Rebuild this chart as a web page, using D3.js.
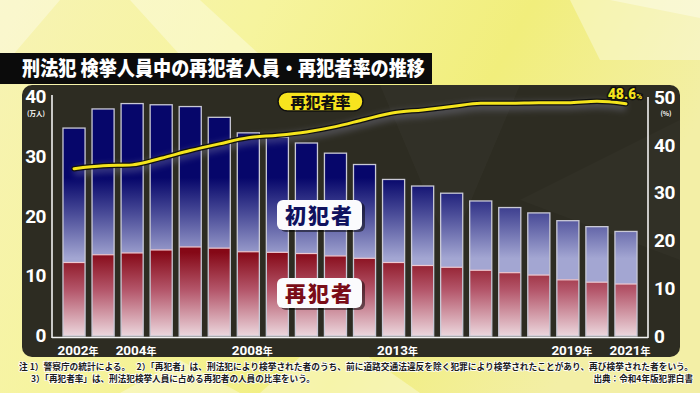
<!DOCTYPE html>
<html><head><meta charset="utf-8">
<script src="https://cdn.jsdelivr.net/npm/d3@7"></script>
<style>
html,body{margin:0;padding:0;overflow:hidden;background:#f3f08e}
svg{display:block}
</style></head>
<body>
<script>
const years = [2002,2003,2004,2005,2006,2007,2008,2009,2010,2011,2012,2013,2014,2015,2016,2017,2018,2019,2020,2021];
const totalArrested = [34.8,38.0,38.9,38.7,38.4,36.6,34.0,33.3,32.3,30.6,28.7,26.2,25.1,23.9,22.6,21.5,20.6,19.3,18.3,17.5];
const repeatOffenders = [12.3,13.6,13.9,14.4,14.9,14.7,14.1,14.0,13.8,13.4,13.0,12.3,11.8,11.5,11.0,10.6,10.2,9.4,9.0,8.7];
const repeatRate = [35.0,35.6,35.8,37.2,38.8,40.2,41.5,42.0,42.7,43.8,45.3,46.7,47.3,48.0,48.7,48.7,48.8,48.8,49.1,48.6];
const leftTicks = [0,10,20,30,40];
const rightTicks = [0,10,20,30,40,50];
const xLabelYears = [2002,2004,2008,2013,2019,2021];
const title = "刑法犯 検挙人員中の再犯者人員・再犯者率の推移";
const note1 = "注\u00a01）警察庁の統計による。\u3000 2）「再犯者」は、刑法犯により検挙された者のうち、前に道路交通法違反を除く犯罪により検挙されたことがあり、再び検挙された者をいう。";
const note2 = "3）「再犯者率」は、刑法犯検挙人員に占める再犯者の人員の比率をいう。";
const source = "出典：令和4年版犯罪白書";

const W=700,H=393;
const JP = "'Noto Sans CJK JP','Noto Sans',sans-serif";
const NUM = "Roboto,'Noto Sans',sans-serif";
const svg = d3.select("body").append("svg").attr("width",W).attr("height",H);
const defs = svg.append("defs");

// background
const bg = defs.append("linearGradient").attr("id","bg").attr("x1","0").attr("y1","0").attr("x2","1").attr("y2","0.3");
bg.append("stop").attr("offset","0").attr("stop-color","#f7f3b4");
bg.append("stop").attr("offset","0.35").attr("stop-color","#f6f49e");
bg.append("stop").attr("offset","0.7").attr("stop-color","#f1ee7c");
bg.append("stop").attr("offset","1").attr("stop-color","#f3efa6");
svg.append("rect").attr("width",W).attr("height",H).attr("fill","url(#bg)");
const streaks = [
  [[0,0],[60,0],[0,70]],
  [[130,0],[200,0],[260,55],[180,55]],
  [[570,0],[700,0],[700,60],[600,60]],
  [[610,0],[700,0],[700,18]],
  [[260,393],[330,330],[420,393]],
  [[120,393],[180,360],[240,393]]
];
svg.selectAll("polygon.streak").data(streaks).join("polygon").attr("class","streak")
  .attr("points",d=>d.map(p=>p.join(",")).join(" "))
  .attr("fill","#ffffff").attr("opacity",0.35);

// title bar
svg.append("rect").attr("x",0).attr("y",53).attr("width",432).attr("height",31).attr("fill","#0b0b0b");
svg.append("text").attr("x",22).attr("y",76).attr("fill","#fff")
  .attr("font-family",JP).attr("font-weight",900).attr("font-size",20)
  .attr("textLength",403).attr("lengthAdjust","spacingAndGlyphs")
  .text(title);

// panel
svg.append("rect").attr("x",22).attr("y",85).attr("width",658).attr("height",272).attr("rx",10)
  .attr("fill","#2d2c22");
svg.append("polygon").attr("points","380,85 520,85 450,250").attr("fill","#ffffff").attr("opacity",0.025);
svg.append("polygon").attr("points","520,200 680,120 680,260").attr("fill","#ffffff").attr("opacity",0.02);

// scales
const x = d3.scaleBand().domain(years).range([59.5,640.5]).paddingInner(0.24).paddingOuter(0.12);
const yL = d3.scaleLinear().domain([0,40]).range([336,97]);
const yR = d3.scaleLinear().domain([0,50]).range([336,97]);

// gradients (absolute)
const gB = defs.append("linearGradient").attr("id","gB").attr("gradientUnits","userSpaceOnUse")
  .attr("x1",0).attr("x2",0).attr("y1",yL(26.5)).attr("y2",yL(13));
gB.append("stop").attr("offset","0").attr("stop-color","#06066a");
gB.append("stop").attr("offset","0.45").attr("stop-color","#4a4c98");
gB.append("stop").attr("offset","1").attr("stop-color","#a3a6d2");
const gR = defs.append("linearGradient").attr("id","gR").attr("gradientUnits","userSpaceOnUse")
  .attr("x1",0).attr("x2",0).attr("y1",yL(14)).attr("y2",yL(0));
gR.append("stop").attr("offset","0").attr("stop-color","#850816");
gR.append("stop").attr("offset","0.45").attr("stop-color","#b4566a");
gR.append("stop").attr("offset","1").attr("stop-color","#ecd7dd");

const data = years.map((y,i)=>({year:y,total:totalArrested[i],rep:repeatOffenders[i],rate:repeatRate[i]}));

// bars
const bars = svg.append("g");
bars.selectAll("rect.first").data(data).join("rect").attr("class","first")
  .attr("x",d=>x(d.year)).attr("width",x.bandwidth())
  .attr("y",d=>yL(d.total)).attr("height",d=>yL(d.rep)-yL(d.total))
  .attr("fill","url(#gB)");
bars.selectAll("rect.rep").data(data).join("rect").attr("class","rep")
  .attr("x",d=>x(d.year)).attr("width",x.bandwidth())
  .attr("y",d=>yL(d.rep)).attr("height",d=>yL(0)-yL(d.rep))
  .attr("fill","url(#gR)");
bars.selectAll("line.sep").data(data).join("line").attr("class","sep")
  .attr("x1",d=>x(d.year)).attr("x2",d=>x(d.year)+x.bandwidth())
  .attr("y1",d=>yL(d.rep)).attr("y2",d=>yL(d.rep))
  .attr("stroke","#f0c8d0").attr("stroke-width",1.2);
bars.selectAll("rect.outline").data(data).join("rect").attr("class","outline")
  .attr("x",d=>x(d.year)).attr("width",x.bandwidth())
  .attr("y",d=>yL(d.total)).attr("height",d=>yL(0)-yL(d.total))
  .attr("fill","none").attr("stroke","#c9c9d6").attr("stroke-width",1.3);

// axes lines
svg.append("line").attr("x1",52).attr("x2",52).attr("y1",95).attr("y2",338).attr("stroke","#f2f2f2").attr("stroke-width",1.6);
svg.append("line").attr("x1",648).attr("x2",648).attr("y1",97).attr("y2",338).attr("stroke","#f2f2f2").attr("stroke-width",1.6);
svg.append("line").attr("x1",52).attr("x2",648).attr("y1",337.5).attr("y2",337.5).attr("stroke","#f2f2f2").attr("stroke-width",1.6);

// left axis via d3
const axL = svg.append("g").attr("transform","translate(46,0)")
  .call(d3.axisLeft(yL).tickValues(leftTicks).tickSize(0).tickPadding(0).tickFormat(d3.format("d")));
axL.select(".domain").remove();
axL.selectAll("text").attr("fill","#fff").attr("font-family",NUM).attr("font-weight",700)
  .attr("font-size",19).attr("letter-spacing",-0.5).attr("dy","0.3em");
svg.append("text").attr("x",36).attr("y",115.5).attr("text-anchor","middle").attr("fill","#fff")
  .attr("font-family",JP).attr("font-weight",700).attr("font-size",6.5).text("(万人)");

const axR = svg.append("g").attr("transform","translate(654,0)")
  .call(d3.axisRight(yR).tickValues(rightTicks).tickSize(0).tickPadding(0).tickFormat(d3.format("d")));
axR.select(".domain").remove();
axR.selectAll("text").attr("fill","#fff").attr("font-family",NUM).attr("font-weight",700)
  .attr("font-size",19).attr("letter-spacing",-0.5).attr("dy","0.33em");
svg.append("text").attr("x",666).attr("y",116).attr("text-anchor","middle").attr("fill","#fff")
  .attr("font-family",JP).attr("font-weight",700).attr("font-size",6.5).text("(%)");

// x labels
const xl = svg.append("g");
xLabelYears.forEach(yr=>{
  const t = xl.append("text").attr("x",x(yr)+x.bandwidth()/2+4).attr("y",355).attr("text-anchor","middle")
    .attr("fill","#fff").attr("font-family",NUM).attr("font-weight",700).attr("font-size",13.5);
  t.append("tspan").text(yr);
  t.append("tspan").attr("font-family",JP).attr("font-size",10).text("年");
});

// rate line
const line = d3.line().x(d=>x(d.year)+x.bandwidth()/2).y(d=>yR(d.rate)).curve(d3.curveMonotoneX);
const glow = defs.append("filter").attr("id","glow").attr("x","-10%").attr("y","-50%").attr("width","120%").attr("height","200%");
glow.append("feGaussianBlur").attr("stdDeviation",3);
svg.append("path").datum(data).attr("d",line).attr("fill","none").attr("stroke","#8b8ba8")
  .attr("stroke-width",9).attr("opacity",0.35).attr("transform","translate(0,3)").attr("filter","url(#glow)");
svg.append("path").datum(data).attr("d",line).attr("fill","none").attr("stroke","#111").attr("stroke-width",5.5).attr("stroke-linecap","round");
svg.append("path").datum(data).attr("d",line).attr("fill","none").attr("stroke","#f4e41c").attr("stroke-width",3).attr("stroke-linecap","round");

// end label
const last = data[data.length-1];
const lbl = svg.append("text").attr("x",x(last.year)+x.bandwidth()/2-1).attr("y",yR(last.rate)-5).attr("text-anchor","middle")
  .attr("fill","#f4e41c").attr("stroke","#111").attr("stroke-width",3).attr("paint-order","stroke")
  .attr("font-family",NUM).attr("font-weight",900).attr("font-size",14);
lbl.append("tspan").text(d3.format(".1f")(last.rate));
lbl.append("tspan").attr("font-size",8).text("%");

// legend labels
const pillG = svg.append("g");
pillG.append("rect").attr("x",278).attr("y",92).attr("width",85).attr("height",19).attr("rx",9.5)
  .attr("fill","#f7e41e").attr("stroke","#111").attr("stroke-width",1.5);
pillG.append("text").attr("x",320.5).attr("y",107.5).attr("text-anchor","middle").attr("fill","#111")
  .attr("font-family",JP).attr("font-weight",900).attr("font-size",15).text("再犯者率");

const boxes = [{label:"初犯者",y:200,color:"#10125e"},{label:"再犯者",y:278,color:"#7a0d18"}];
boxes.forEach(b=>{
  svg.append("rect").attr("x",280).attr("y",b.y+2).attr("width",85).attr("height",30).attr("rx",6).attr("fill","#000").attr("opacity",0.5);
  svg.append("rect").attr("x",277).attr("y",b.y).attr("width",85).attr("height",30).attr("rx",6).attr("fill","#fbfbfd");
  svg.append("text").attr("x",319.5).attr("y",b.y+23).attr("text-anchor","middle").attr("fill",b.color)
    .attr("font-family",JP).attr("font-weight",900).attr("font-size",21).attr("letter-spacing",2).text(b.label);
});

// footnotes
const fn = svg.append("g").attr("font-family",JP).attr("font-weight",700).attr("font-size",8.6)
  .attr("fill","#1a1a1a").attr("stroke","#ffffff").attr("stroke-width",1.5).attr("paint-order","stroke");
fn.append("text").attr("x",19).attr("y",369.5).attr("textLength",674).attr("lengthAdjust","spacingAndGlyphs").text(note1);
fn.append("text").attr("x",31).attr("y",381.5).text(note2);
fn.append("text").attr("x",693).attr("y",381.5).attr("text-anchor","end").text(source);
</script>
</body></html>
